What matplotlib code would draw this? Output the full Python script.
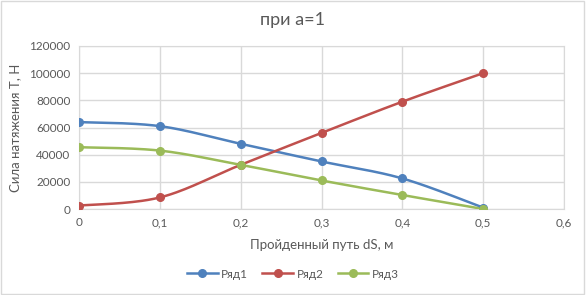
import numpy as np
import matplotlib
matplotlib.use("Agg")
import matplotlib.pyplot as plt
from matplotlib.patches import Rectangle

plt.rcParams['font.family'] = ['Lato', 'DejaVu Sans']

x = [0, 0.1, 0.2, 0.3, 0.4, 0.5]
series1 = [64000, 61000, 48000, 35000, 22500, 1000]
series2 = [2500, 8500, 32500, 56000, 79000, 100000]
series3 = [45500, 43000, 32500, 21000, 10300, 0]
names = ["Ряд1", "Ряд2", "Ряд3"]
colors = ["#4F81BD", "#C0504D", "#9BBB59"]
title = "при а=1"
xlabel = "Пройденный путь dS, м"
ylabel = "Сила натяжения Т, Н"


def smooth(xs, ys, n=30):
    xs = np.asarray(xs, float); ys = np.asarray(ys, float)
    px = np.concatenate([[xs[0]], xs, [xs[-1]]])
    py = np.concatenate([[ys[0]], ys, [ys[-1]]])
    ox, oy = [], []
    t = np.linspace(0, 1, n)
    for i in range(1, len(px) - 2):
        p0 = np.array([px[i], py[i]]); p3 = np.array([px[i + 1], py[i + 1]])
        c1 = p0 + (np.array([px[i + 1], py[i + 1]]) - np.array([px[i - 1], py[i - 1]])) / 6
        c2 = p3 - (np.array([px[i + 2], py[i + 2]]) - p0) / 6
        b = ((1 - t) ** 3)[:, None] * p0 + (3 * (1 - t) ** 2 * t)[:, None] * c1 + \
            (3 * (1 - t) * t ** 2)[:, None] * c2 + (t ** 3)[:, None] * p3
        ox.extend(b[:, 0]); oy.extend(b[:, 1])
    return ox, oy


fig = plt.figure(figsize=(5.86, 2.95), dpi=100)
fig.patches.append(Rectangle((0.002, 0.003), 0.994, 0.994, transform=fig.transFigure,
                             fill=False, edgecolor="#D9D9D9", linewidth=1))
ax = fig.add_axes([79 / 586, 1 - 209 / 295, (564 - 79) / 586, (209 - 46) / 295])

for ys, nm, c in zip([series1, series2, series3], names, colors):
    sx, sy = smooth(x, ys)
    ax.plot(sx, sy, color=c, linewidth=1.8, zorder=3)
    ax.plot(x, ys, 'o', color=c, markersize=5.5, zorder=4)
    ax.plot([], [], '-o', color=c, markersize=5.5, linewidth=1.8, label=nm)

ax.set_xlim(0, 0.6)
ax.set_ylim(0, 120000)
ax.set_xticks([0, 0.1, 0.2, 0.3, 0.4, 0.5, 0.6])
ax.set_xticklabels(["0", "0,1", "0,2", "0,3", "0,4", "0,5", "0,6"])
ax.set_yticks(range(0, 120001, 20000))
ax.set_yticklabels([str(v) for v in range(0, 120001, 20000)])
ax.grid(True, color="#D9D9D9", linewidth=1)
ax.set_axisbelow(True)
for s in ax.spines.values():
    s.set_color("#D9D9D9")
ax.tick_params(length=0, colors="#595959", labelsize=8.5, pad=6)
ax.set_xlabel(xlabel, color="#595959", fontsize=9.5, labelpad=8)
ax.set_ylabel(ylabel, color="#595959", fontsize=9.5, labelpad=6)
fig.text(0.5, 1 - 20 / 295, title, ha="center", va="center", fontsize=13, color="#595959")
ax.legend(loc="center", bbox_to_anchor=(0.5, 1 - 274 / 295), bbox_transform=fig.transFigure,
          ncol=3, frameon=False, fontsize=8.5, labelcolor="#595959", handlelength=2.6,
          columnspacing=1.2, handletextpad=0.3)

fig.savefig("out.png", dpi=100)
